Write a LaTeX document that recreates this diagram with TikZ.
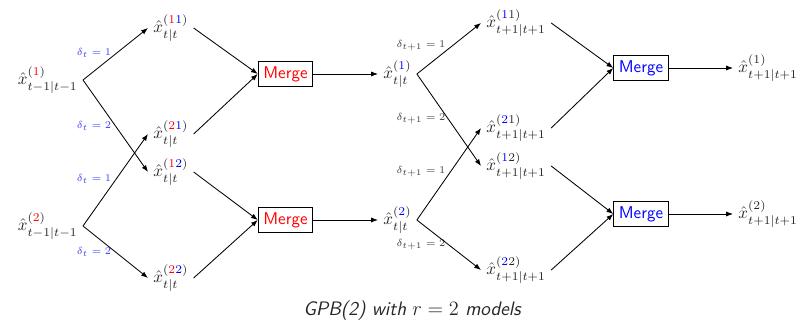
\documentclass[tikz,border=0pt]{standalone}
\usetikzlibrary{arrows.meta}
\begin{document}
\begin{tikzpicture}[x=0.588pt,y=-0.588pt,
  lab/.style={font=\fontsize{5.8pt}{6.5pt}\selectfont, text=blue!75},
  labk/.style={font=\fontsize{5.8pt}{6.5pt}\selectfont, text=black!75},
  est/.style={text=black!85, inner sep=3pt},
  mergebox/.style={draw, line width=0.6pt, font=\sffamily, minimum width=32pt, minimum height=15pt, inner sep=2pt},
  arr/.style={-{Latex[length=4pt,width=3pt]}, line width=0.5pt},
  ln/.style={line width=0.5pt}]
\useasboundingbox (0,0) rectangle (809,323);
% stage t-1
\node[est, anchor=east] (a1) at (83,80) {$\hat{x}^{(\textcolor{red}{1})}_{t-1|t-1}$};
\node[est, anchor=east] (a2) at (83,226) {$\hat{x}^{(\textcolor{red}{2})}_{t-1|t-1}$};
% stage t
\node[est, anchor=west] (b11) at (148,28) {$\hat{x}^{(\textcolor{red}{1}\textcolor{blue}{1})}_{t|t}$};
\node[est, anchor=west] (b21) at (148,134) {$\hat{x}^{(\textcolor{red}{2}\textcolor{blue}{1})}_{t|t}$};
\node[est, anchor=west] (b12) at (148,172) {$\hat{x}^{(\textcolor{red}{1}\textcolor{blue}{2})}_{t|t}$};
\node[est, anchor=west] (b22) at (148,278) {$\hat{x}^{(\textcolor{red}{2}\textcolor{blue}{2})}_{t|t}$};
\node[mergebox, text=red] (m1) at (285.5,74) {Merge};
\node[mergebox, text=red] (m2) at (285.5,220) {Merge};
\node[est, anchor=west] (c1) at (378,74) {$\hat{x}^{(\textcolor{blue}{1})}_{t|t}$};
\node[est, anchor=west] (c2) at (378,220) {$\hat{x}^{(\textcolor{blue}{2})}_{t|t}$};
% stage t+1
\node[est, anchor=west] (d11) at (481,23) {$\hat{x}^{(\textcolor{blue}{1}1)}_{t+1|t+1}$};
\node[est, anchor=west] (d21) at (481,128) {$\hat{x}^{(\textcolor{blue}{2}1)}_{t+1|t+1}$};
\node[est, anchor=west] (d12) at (481,166) {$\hat{x}^{(\textcolor{blue}{1}2)}_{t+1|t+1}$};
\node[est, anchor=west] (d22) at (481,270) {$\hat{x}^{(\textcolor{blue}{2}2)}_{t+1|t+1}$};
\node[mergebox, text=blue] (m3) at (641,68) {Merge};
\node[mergebox, text=blue] (m4) at (641,214) {Merge};
\node[est, anchor=west] (e1) at (733,68) {$\hat{x}^{(1)}_{t+1|t+1}$};
\node[est, anchor=west] (e2) at (733,214) {$\hat{x}^{(2)}_{t+1|t+1}$};
% labels
\node[lab] (l1) at (94,53) {$\delta_t=1$};
\node[lab] (l2) at (94,126) {$\delta_t=2$};
\node[lab] (l3) at (94,179) {$\delta_t=1$};
\node[lab] (l4) at (94,252) {$\delta_t=2$};
\node[labk] (l5) at (421,46) {$\delta_{t+1}=1$};
\node[labk] (l6) at (421,119) {$\delta_{t+1}=2$};
\node[labk] (l7) at (421,172) {$\delta_{t+1}=1$};
\node[labk] (l8) at (421,245) {$\delta_{t+1}=2$};
% connectors
\draw[arr] (a1.east) -- (b11.west);
\draw[arr] (a1.east) -- (b12.west);
\draw[arr] (a2.east) -- (b21.west);
\draw[arr] (a2.east) -- (b22.west);
\draw[arr] (b11.east) -- (m1.west);
\draw[arr] (b21.east) -- (m1.west);
\draw[arr] (b12.east) -- (m2.west);
\draw[arr] (b22.east) -- (m2.west);
\draw[arr] (m1.east) -- (c1.west);
\draw[arr] (m2.east) -- (c2.west);
\draw[arr] (c1.east) -- (d11.west);
\draw[arr] (c1.east) -- (d12.west);
\draw[arr] (c2.east) -- (d21.west);
\draw[arr] (c2.east) -- (d22.west);
\draw[arr] (d11.east) -- (m3.west);
\draw[arr] (d21.east) -- (m3.west);
\draw[arr] (d12.east) -- (m4.west);
\draw[arr] (d22.east) -- (m4.west);
\draw[arr] (m3.east) -- (e1.west);
\draw[arr] (m4.east) -- (e2.west);
% caption
\node[text=black!85, font=\fontsize{11.5pt}{13pt}\selectfont] (cap) at (412,311) {\sffamily\itshape GPB(2) with $r=2$ models};
\end{tikzpicture}
\end{document}
